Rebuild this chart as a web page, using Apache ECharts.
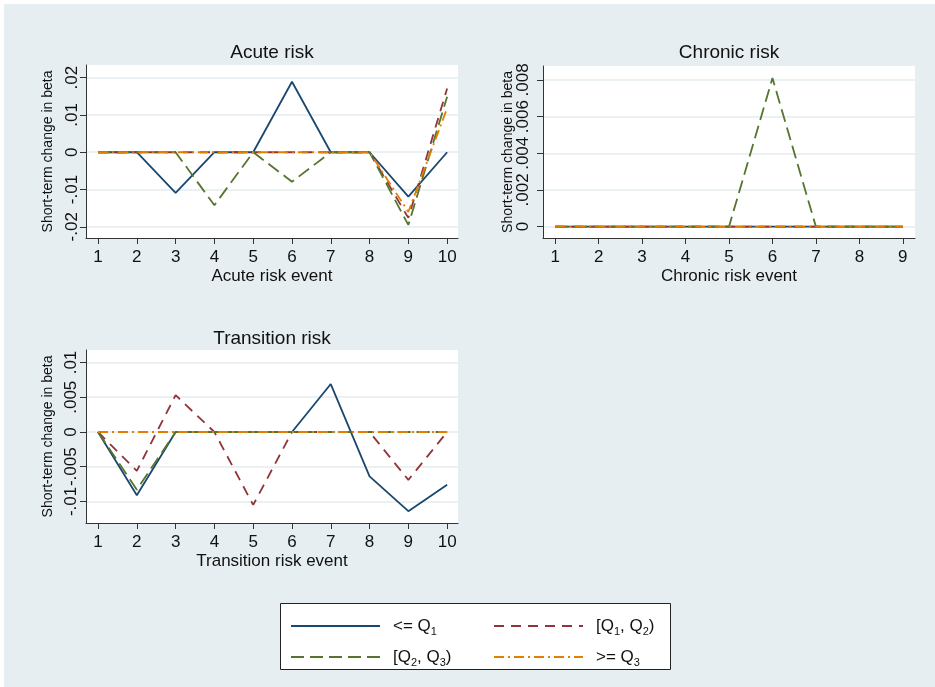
<!DOCTYPE html>
<html>
<head>
<meta charset="utf-8">
<script src="https://cdn.jsdelivr.net/npm/echarts@6/dist/echarts.min.js"></script>
<style>
  html, body { margin: 0; padding: 0; background: #fff; }
  #main { width: 935px; height: 687px; }
</style>
</head>
<body>
<div id="main"></div>
<script>
// event numbers on the x axes
const events10 = [1, 2, 3, 4, 5, 6, 7, 8, 9, 10];
const events9 = [1, 2, 3, 4, 5, 6, 7, 8, 9];

// acute risk, one array per quartile group
const acuteQ1 = [0, 0, -0.0109, 0, 0, 0.0189, 0, 0, -0.0119, 0];
const acuteQ2 = [0, 0, 0, 0, 0, 0, 0, 0, -0.0176, 0.0171];
const acuteQ3 = [0, 0, 0, -0.0142, 0, -0.0079, 0, 0, -0.0195, 0.0149];
const acuteQ4 = [0, 0, 0, 0, 0, 0, 0, 0, -0.0160, 0.0118];

// chronic risk
const chronicQ1 = [0, 0, 0, 0, 0, 0, 0, 0, 0];
const chronicQ2 = [0, 0, 0, 0, 0, 0, 0, 0, 0];
const chronicQ3 = [0, 0, 0, 0, 0, 0.0081, 0, 0, 0];
const chronicQ4 = [0, 0, 0, 0, 0, 0, 0, 0, 0];

// transition risk
const transQ1 = [0, -0.0091, 0, 0, 0, 0, 0.0069, -0.0064, -0.0114, -0.0076];
const transQ2 = [0, -0.0056, 0.0053, 0, -0.0105, 0, 0, 0, -0.0069, 0];
const transQ3 = [0, -0.0083, 0, 0, 0, 0, 0, 0, 0, 0];
const transQ4 = [0, 0, 0, 0, 0, 0, 0, 0, 0, 0];

// y tick values and their labels (Stata style)
const acuteTicks = [-0.02, -0.01, 0, 0.01, 0.02];
const acuteTickLabels = ['-.02', '-.01', '0', '.01', '.02'];
const chronicTicks = [0, 0.002, 0.004, 0.006, 0.008];
const chronicTickLabels = ['0', '.002', '.004', '.006', '.008'];
const transTicks = [-0.01, -0.005, 0, 0.005, 0.01];
const transTickLabels = ['-.01', '-.005', '0', '.005', '.01'];

const seriesNames = ['q1', 'q2', 'q3', 'q4'];
const legendLabels = ['<= Q{s|1}', '[Q{s|1}, Q{s|2})', '[Q{s|2}, Q{s|3})', '>= Q{s|3}'];

const FONT = '"Liberation Sans", Arial, sans-serif';
const axisColor = '#333';
const gridColor = '#e4ecef';
const lineStyles = [
  { color: '#1a476f', type: 'solid' },
  { color: '#90353b', type: [10, 7] },
  { color: '#55752f', type: [13, 6] },
  { color: '#e37e00', type: [10, 4, 2, 4] }
];

function tickFormatter(ticks, labels) {
  return function (v) {
    const i = ticks.findIndex(t => Math.abs(t - v) < 1e-9);
    return i >= 0 ? labels[i] : '';
  };
}

function makeX(gridIndex, name, min, max, ticks) {
  return {
    type: 'value', gridIndex, min, max,
    name, nameLocation: 'middle', nameGap: 30, nameMoveOverlap: false,
    nameTextStyle: { fontSize: 17, fontFamily: FONT, color: '#111' },
    axisLine: { show: true, onZero: false, lineStyle: { color: axisColor, width: 1 } },
    axisTick: { show: true, length: 6, customValues: ticks, lineStyle: { color: axisColor } },
    axisLabel: { customValues: ticks, margin: 11, fontSize: 17, fontFamily: FONT, color: '#111',
      formatter: v => String(Math.round(v)) },
    splitLine: { show: false }
  };
}

function makeY(gridIndex, min, max, ticks, labels, margin, nameGap) {
  return {
    type: 'value', gridIndex, min, max,
    name: 'Short-term change in beta', nameLocation: 'middle', nameRotate: 90,
    nameGap, nameMoveOverlap: false,
    nameTextStyle: { fontSize: 14, fontFamily: FONT, color: '#111' },
    axisLine: { show: true, onZero: false, lineStyle: { color: axisColor, width: 1 } },
    axisTick: { show: true, length: 6, customValues: ticks, lineStyle: { color: axisColor } },
    axisLabel: { customValues: ticks, rotate: 90, margin, fontSize: 17, fontFamily: FONT, color: '#111',
      formatter: tickFormatter(ticks, labels) },
    splitLine: { show: true, lineStyle: { color: gridColor, width: 1.5 } }
  };
}

function panelSeries(idx, xs, groups) {
  return groups.map((arr, k) => ({
    type: 'line',
    name: seriesNames[k],
    xAxisIndex: idx,
    yAxisIndex: idx,
    data: xs.map((x, i) => [x, arr[i]]),
    symbol: 'none',
    z: 2 + k,
    silent: true,
    lineStyle: { color: lineStyles[k].color, type: lineStyles[k].type, width: 1.8 },
    itemStyle: { color: lineStyles[k].color }
  }));
}

// legend: 2 x 2, one legend component per entry
const legendCols = [290, 493];
const legendRows = [622, 653];
const legends = seriesNames.map((n, k) => ({
  data: [n],
  left: legendCols[k % 2],
  top: legendRows[Math.floor(k / 2)] - 7,
  padding: 0,
  itemWidth: 89,
  itemHeight: 14,
  selectedMode: false,
  itemStyle: { opacity: 0 },
  lineStyle: { opacity: 1 },
  formatter: () => legendLabels[k],
  textStyle: {
    fontSize: 17, fontFamily: FONT, color: '#111', lineHeight: 22,
    padding: [0, 0, 0, 8],
    rich: { s: { fontSize: 11, fontFamily: FONT, color: '#111', lineHeight: 14, verticalAlign: 'bottom' } }
  }
}));

const titleStyle = { fontSize: 19, fontFamily: FONT, fill: '#111', textAlign: 'center', textVerticalAlign: 'middle' };

const option = {
  animation: false,
  backgroundColor: '#e7eef1',
  grid: [
    { left: 86, top: 65, width: 372, height: 173, show: true, backgroundColor: '#fff', borderWidth: 0, outerBoundsMode: 'none' },
    { left: 543, top: 66, width: 372, height: 172, show: true, backgroundColor: '#fff', borderWidth: 0, outerBoundsMode: 'none' },
    { left: 86, top: 350, width: 372, height: 173, show: true, backgroundColor: '#fff', borderWidth: 0, outerBoundsMode: 'none' }
  ],
  xAxis: [
    makeX(0, 'Acute risk event', 0.69, 10.28, events10),
    makeX(1, 'Chronic risk event', 0.72, 9.28, events9),
    makeX(2, 'Transition risk event', 0.69, 10.28, events10)
  ],
  yAxis: [
    makeY(0, -0.0230, 0.0234, acuteTicks, acuteTickLabels, 5, 31),
    makeY(1, -0.00062, 0.00876, chronicTicks, chronicTickLabels, 11, 28),
    makeY(2, -0.0131, 0.0118, transTicks, transTickLabels, 6, 31)
  ],
  legend: legends,
  graphic: {
    elements: [
      { type: 'rect', shape: { x: 0, y: 0, width: 4, height: 687 }, style: { fill: '#fff' }, silent: true },
      { type: 'rect', shape: { x: 0, y: 0, width: 935, height: 4 }, style: { fill: '#fff' }, silent: true },
      { type: 'rect', shape: { x: 280.5, y: 603.5, width: 390, height: 66 },
        style: { fill: '#fff', stroke: '#222', lineWidth: 1 }, silent: true },
      { type: 'text', x: 272, y: 53, style: Object.assign({ text: 'Acute risk' }, titleStyle) },
      { type: 'text', x: 729, y: 53, style: Object.assign({ text: 'Chronic risk' }, titleStyle) },
      { type: 'text', x: 272, y: 339, style: Object.assign({ text: 'Transition risk' }, titleStyle) }
    ]
  },
  series: [].concat(
    panelSeries(0, events10, [acuteQ1, acuteQ2, acuteQ3, acuteQ4]),
    panelSeries(1, events9, [chronicQ1, chronicQ2, chronicQ3, chronicQ4]),
    panelSeries(2, events10, [transQ1, transQ2, transQ3, transQ4])
  )
};

const chart = echarts.init(document.getElementById('main'));
chart.setOption(option);
</script>
</body>
</html>
